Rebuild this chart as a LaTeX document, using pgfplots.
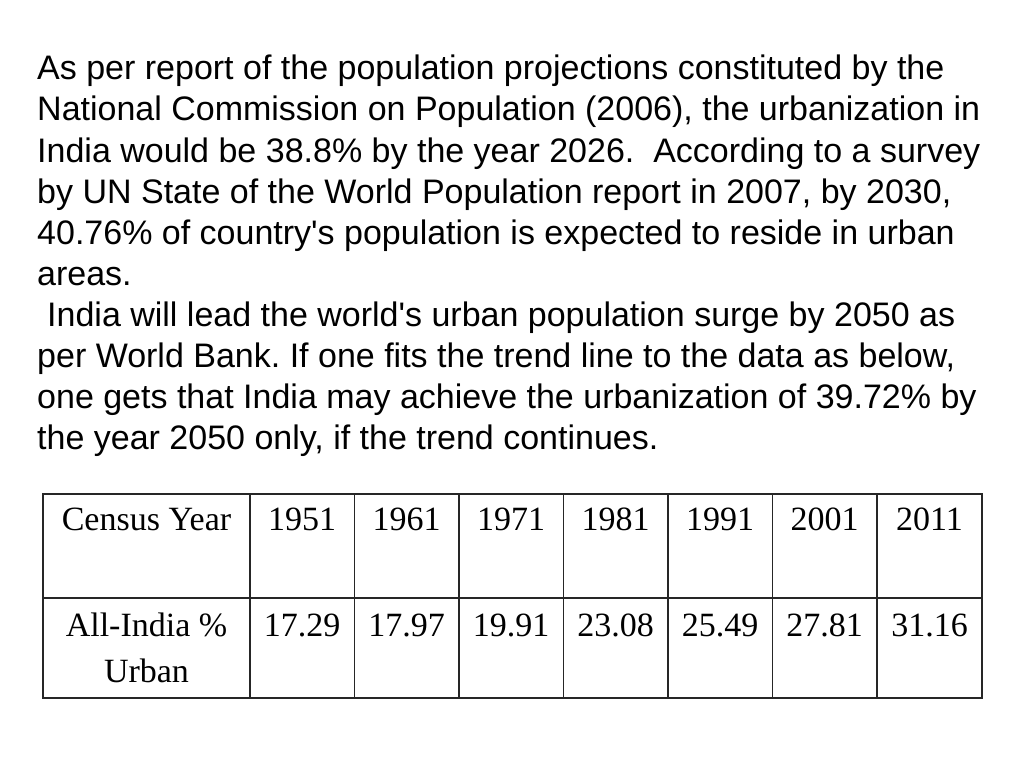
\documentclass[border=0pt]{standalone}
\usepackage{fontspec}
\setmainfont{Liberation Sans}
\newfontfamily\timesfont{Liberation Serif}
\usepackage{pgfplots}
\pgfplotsset{compat=1.18}
\frenchspacing
\begin{document}
\begin{tikzpicture}
\fill[white] (0,0) rectangle (1024pt,768pt);
\useasboundingbox (0,0) rectangle (1024pt,768pt);
\begin{axis}[at={(0,0)},anchor=south west,scale only axis,width=1024pt,height=768pt,
  xmin=0,xmax=1024,ymin=0,ymax=768,y dir=reverse,hide axis,clip=false,
  every node near coord/.append style={anchor=base,font=\timesfont\fontsize{34}{40}\selectfont,text=black,inner sep=0pt},
  point meta=explicit symbolic]
\begin{scope}[every node/.style={anchor=base west,inner sep=0pt,font=\fontsize{34}{41}\selectfont}]
\node at (axis cs:37,80) {As per report of the population projections constituted by the};
\node at (axis cs:37,121) {National Commission on Population (2006), the urbanization in};
\node at (axis cs:37,162) {India would be 38.8\% by the year 2026.\ \ According to a survey};
\node at (axis cs:37,203) {by UN State of the World Population report in 2007, by 2030,};
\node at (axis cs:37,244) {40.76\% of country\textquotesingle s population is expected to reside in urban};
\node at (axis cs:37,285) {areas.};
\node at (axis cs:47,326) {India will lead the world\textquotesingle s urban population surge by 2050 as};
\node at (axis cs:37,367) {per World Bank. If one fits the trend line to the data as below,};
\node at (axis cs:37,408) {one gets that India may achieve the urbanization of 39.72\% by};
\node at (axis cs:37,449) {the year 2050 only, if the trend continues.};
\end{scope}
% table grid
\draw[line width=1.4pt,black!85] (axis cs:43,494) rectangle (axis cs:982,698);
\draw[line width=1.4pt,black!85] (axis cs:43,598) -- (axis cs:982,598);
\pgfplotsinvokeforeach{250,354.5,459,563.5,668,772.5,877}{
  \draw[line width=1.4pt,black!85] (axis cs:#1,494) -- (axis cs:#1,698);
}
\begin{scope}[every node/.style={anchor=base,inner sep=0pt,font=\timesfont\fontsize{34}{40}\selectfont}]
\node at (axis cs:146.5,530) {Census Year};
\node at (axis cs:146.5,636) {All-India \%};
\node at (axis cs:146.5,682) {Urban};
\end{scope}
% header years
\addplot[draw=none,mark=none,nodes near coords] coordinates {
 (302,530)[1951] (406.5,530)[1961] (511,530)[1971] (615.5,530)[1981]
 (720,530)[1991] (824.5,530)[2001] (929.5,530)[2011]};
% urban percentages
\addplot[draw=none,mark=none,nodes near coords] coordinates {
 (302,636)[17.29] (406.5,636)[17.97] (511,636)[19.91] (615.5,636)[23.08]
 (720,636)[25.49] (824.5,636)[27.81] (929.5,636)[31.16]};
\end{axis}
\end{tikzpicture}
\end{document}
